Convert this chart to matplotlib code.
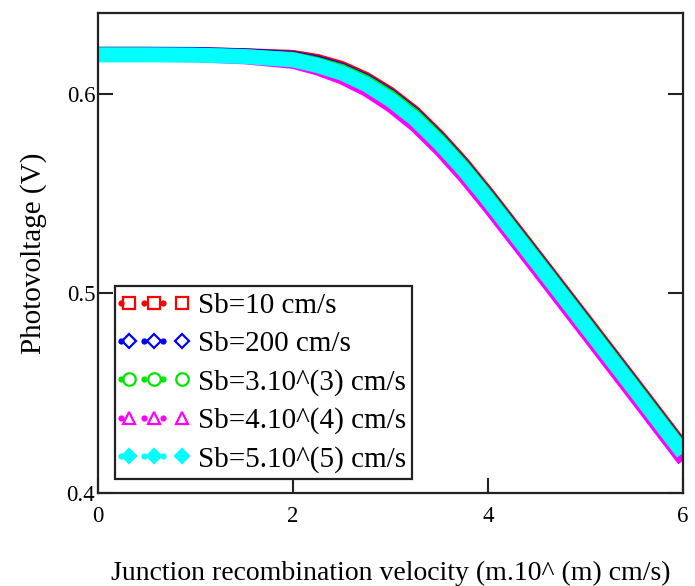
import matplotlib
matplotlib.use("Agg")
import matplotlib.pyplot as plt
from matplotlib.lines import Line2D
from matplotlib.legend_handler import HandlerBase

plt.rcParams['font.family'] = ['Liberation Serif', 'DejaVu Serif']

# Junction recombination velocity exponent (x axis)
x = [0, 0.5, 1, 1.5, 2, 2.25, 2.5, 2.75, 3, 3.25, 3.5, 3.75, 4, 4.5, 5, 5.5, 6]

v_sb10 = [0.6205, 0.6205, 0.6204, 0.6199, 0.6190, 0.6170, 0.6135, 0.6080, 0.6005,
          0.5910, 0.5790, 0.5655, 0.5505, 0.5190, 0.4873, 0.4555, 0.4235]
v_sb200 = [0.6206, 0.6206, 0.6205, 0.6198, 0.6185, 0.6162, 0.6126, 0.6071, 0.5996,
           0.5901, 0.5781, 0.5646, 0.5496, 0.5181, 0.4864, 0.4546, 0.4226]
v_sb3e3 = [0.6202, 0.6202, 0.6200, 0.6193, 0.6180, 0.6155, 0.6120, 0.6065, 0.5990,
           0.5895, 0.5775, 0.5640, 0.5490, 0.5175, 0.4858, 0.4540, 0.4220]
v_sb4e4 = [0.6190, 0.6190, 0.6188, 0.6178, 0.6155, 0.6122, 0.6077, 0.6016, 0.5936,
           0.5838, 0.5718, 0.5582, 0.5432, 0.5117, 0.4800, 0.4482, 0.4162]
v_sb5e5 = [0.6195, 0.6195, 0.6194, 0.6187, 0.6170, 0.6142, 0.6104, 0.6047, 0.5970,
           0.5874, 0.5754, 0.5620, 0.5470, 0.5155, 0.4838, 0.4520, 0.4200]

labels = ["Sb=10 cm/s", "Sb=200 cm/s", "Sb=3.10^(3) cm/s", "Sb=4.10^(4) cm/s", "Sb=5.10^(5) cm/s"]
colors = ["#ff0000", "#0000ff", "#00e600", "#ff00ff", "#00ffff"]
markers = ["s", "D", "o", "^", "D"]
filled = [False, False, False, False, True]
series = [v_sb10, v_sb200, v_sb3e3, v_sb4e4, v_sb5e5]
widths = [8.6, 8.6, 8.6, 8.6, 10.8]

xticks = [0, 2, 4, 6]
yticks = [0.4, 0.5, 0.6]

fig = plt.figure(figsize=(6.95, 5.86), dpi=100)
ax = fig.add_axes([98/695, 1-493/586, (683-98)/695, (493-13)/586])

for ys, c, lw in zip(series, colors, widths):
    ax.plot(x, ys, color=c, lw=lw, solid_capstyle='butt', solid_joinstyle='round')

ax.set_xlim(0, 6)
ax.set_ylim(0.4, 0.6405)
ax.set_xticks(xticks)
ax.set_xticklabels([str(t) for t in xticks])
ax.set_yticks(yticks)
ax.set_yticklabels([f"{t:.1f}" for t in yticks])
ax.tick_params(axis='both', direction='in', length=11, width=1.5, labelsize=16.5, color='#222222')
ax.tick_params(axis='y', right=True, pad=2)
ax.tick_params(axis='x', pad=9)
for s in ax.spines.values():
    s.set_linewidth(1.6)
    s.set_color('#222222')

ax.set_ylabel("Photovoltage (V)", fontsize=21, labelpad=14)
ax.set_xlabel("Junction recombination velocity (m.10^ (m) cm/s)", fontsize=20, labelpad=25)


class DotMarkerHandler(HandlerBase):
    def create_artists(self, legend, orig_handle, xdescent, ydescent, width, height, fontsize, trans):
        y = height / 2.0 - ydescent
        c = orig_handle.get_color()
        mk = orig_handle.get_marker()
        mfc = orig_handle.get_markerfacecolor()
        ms = orig_handle.get_markersize()
        arts = []
        dots = Line2D([-xdescent + f * width for f in (0.0, 0.33, 0.62)], [y] * 3,
                      linestyle='none', marker='o', color=c, markersize=4.5, markeredgewidth=0)
        mks = Line2D([-xdescent + f * width for f in (0.12, 0.49, 0.90)], [y] * 3,
                     linestyle='none', marker=mk, color=c, markerfacecolor=mfc,
                     markersize=ms, markeredgewidth=1.6)
        for a in (dots, mks):
            a.set_transform(trans)
            arts.append(a)
        return arts


proxies = []
for c, m, f in zip(colors, markers, filled):
    proxies.append(Line2D([], [], color=c, marker=m, markerfacecolor=(c if f else 'none'),
                          markersize=(9 if m != 'D' else 7.5)))

leg = ax.legend(proxies, labels, handler_map={Line2D: DotMarkerHandler()},
                loc='upper left', bbox_to_anchor=(115/695, 1-286/586),
                bbox_transform=fig.transFigure, borderaxespad=0, borderpad=0.22,
                handlelength=2.3, handletextpad=0.32, labelspacing=0.40,
                fontsize=21, frameon=True, fancybox=False, framealpha=1,
                edgecolor='#222222')
leg.get_frame().set_linewidth(1.6)

fig.savefig("out.png", dpi=100)
